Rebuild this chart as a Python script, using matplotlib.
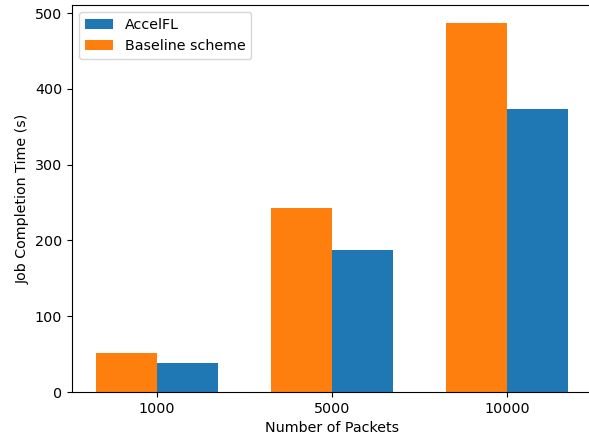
import matplotlib
matplotlib.use("Agg")
import matplotlib.pyplot as plt
import numpy as np

plt.rcParams["font.size"] = 10.3

categories = ["1000", "5000", "10000"]
baseline = [51.7, 243.4, 486.4]
accelfl = [37.7, 186.8, 373.2]

fig = plt.figure(figsize=(5.89, 4.37), dpi=100)
ax = fig.add_axes([72/589, 45/437, 520/589, 387/437])

x = np.arange(len(categories))
w = 0.35
ax.bar(x - w/2, baseline, w, color="#ff7f0e", label="Baseline scheme")
ax.bar(x + w/2, accelfl, w, color="#1f77b4", label="AccelFL")

ax.set_xticks(x)
ax.set_xticklabels(categories)
ax.set_xlabel("Number of Packets")
ax.set_ylabel("Job Completion Time (s)")
ax.spines["right"].set_visible(False)

handles, labels = ax.get_legend_handles_labels()
ax.legend(handles[::-1], labels[::-1], loc="upper left")

fig.savefig("out.png", dpi=100)
